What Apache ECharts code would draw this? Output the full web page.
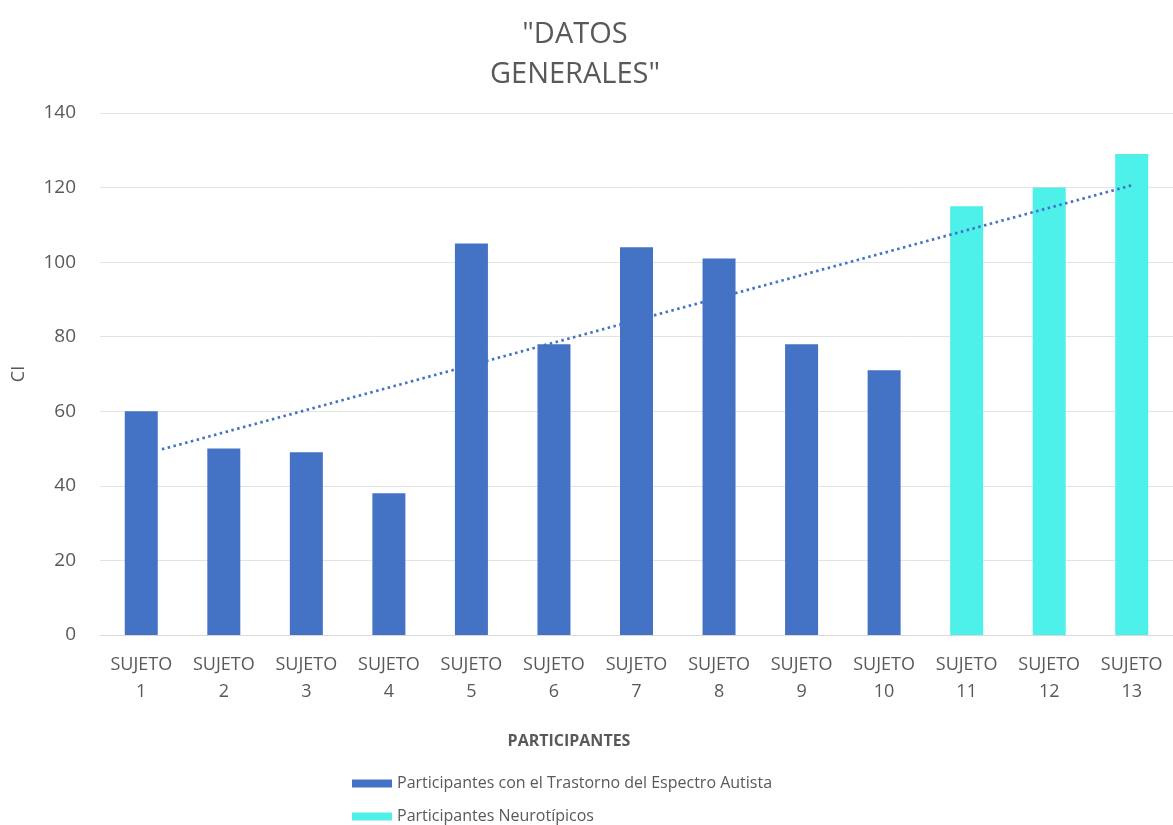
<!DOCTYPE html>
<html>
<head>
<meta charset="UTF-8">
<title>Datos generales</title>
<script src="https://cdn.jsdelivr.net/npm/echarts@6/dist/echarts.min.js"></script>
<style>
  html, body { margin: 0; padding: 0; background: #fff; }
  #main { width: 1173px; height: 825px; }
</style>
</head>
<body>
<div id="main"></div>
<script>
// datos
var sujetos = ['SUJETO\n1', 'SUJETO\n2', 'SUJETO\n3', 'SUJETO\n4', 'SUJETO\n5', 'SUJETO\n6', 'SUJETO\n7',
  'SUJETO\n8', 'SUJETO\n9', 'SUJETO\n10', 'SUJETO\n11', 'SUJETO\n12', 'SUJETO\n13'];
var tea = [60, 50, 49, 38, 105, 78, 104, 101, 78, 71, '-', '-', '-'];
var neurotipicos = ['-', '-', '-', '-', '-', '-', '-', '-', '-', '-', 115, 120, 129];
// tendencia lineal (extremos leidos)
var tendenciaX = [1.25, 13];
var tendenciaY = [49.8, 120.6];

var gris = '#595959';
var fuente = '"Open Sans", "Noto Sans", sans-serif';

var chart = echarts.init(document.getElementById('main'));
chart.setOption({
  animation: false,
  textStyle: { fontFamily: fuente },
  title: {
    text: '"DATOS\nGENERALES"',
    left: 570, top: 10,
    textAlign: 'center',
    textStyle: { fontSize: 29, fontWeight: 'normal', color: gris, lineHeight: 40, fontFamily: fuente }
  },
  legend: {
    orient: 'vertical',
    left: 352, top: 774,
    padding: 0,
    height: 60,
    itemWidth: 40, itemHeight: 8, itemGap: 14,
    icon: 'rect',
    textStyle: { fontSize: 16, color: gris, fontFamily: fuente, lineHeight: 19, padding: [0, 0, 0, 0] },
    data: ['Participantes con el Trastorno del Espectro Autista', 'Participantes Neurotípicos']
  },
  grid: { left: 100, right: 0, top: 113, bottom: 190 },
  xAxis: [{
    type: 'category',
    data: sujetos,
    name: 'PARTICIPANTES',
    nameLocation: 'middle',
    nameGap: 98,
    nameTextStyle: { fontSize: 16, color: gris, fontWeight: 'bold', padding: [0, 0, 0, -135] },
    axisLine: { lineStyle: { color: '#d9d9d9', width: 1 } },
    axisTick: { show: false },
    axisLabel: { color: gris, fontSize: 18, lineHeight: 27, margin: 16, interval: 0 }
  }, {
    type: 'value',
    min: 0.5, max: 13.5,
    show: false
  }],
  yAxis: {
    type: 'value',
    min: 0, max: 140, interval: 20,
    name: 'CI',
    nameLocation: 'middle',
    nameGap: 72,
    nameTextStyle: { fontSize: 18, color: gris },
    axisLine: { show: false },
    axisTick: { show: false },
    axisLabel: { color: gris, fontSize: 19, margin: 24 },
    splitLine: { lineStyle: { color: '#e3e3e3', width: 1 } }
  },
  series: [{
    name: 'Participantes con el Trastorno del Espectro Autista',
    type: 'bar',
    stack: 'ci',
    barWidth: 33,
    itemStyle: { color: '#4472C4' },
    data: tea
  }, {
    name: 'Participantes Neurotípicos',
    type: 'bar',
    stack: 'ci',
    barWidth: 33,
    itemStyle: { color: '#4EF0EA' },
    data: neurotipicos
  }, {
    name: 'Tendencia',
    type: 'line',
    xAxisIndex: 1,
    symbol: 'none',
    z: 5,
    lineStyle: { color: '#4472C4', width: 2.7, type: [2.5, 3.5] },
    data: tendenciaX.map(function (x, i) { return [x, tendenciaY[i]]; })
  }]
});
</script>
</body>
</html>
